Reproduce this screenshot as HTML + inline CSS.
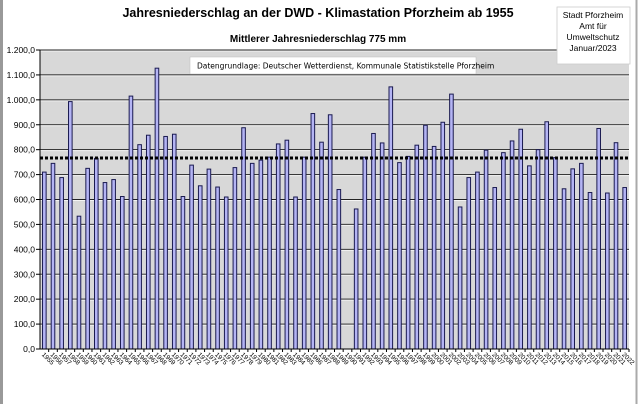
<!DOCTYPE html>
<html><head><meta charset="utf-8"><style>body{margin:0;background:#fff}svg{display:block}</style></head><body>
<svg width="640" height="404" xmlns="http://www.w3.org/2000/svg" font-family="Liberation Sans, sans-serif">
<rect x="0" y="0" width="640" height="404" fill="#fff"/>
<rect x="0" y="0" width="3" height="404" fill="#999"/>
<rect x="635.5" y="0" width="2" height="404" fill="#aaa"/>
<text x="318" y="17" font-size="12.5" font-weight="bold" text-anchor="middle">Jahresniederschlag an der DWD - Klimastation Pforzheim ab 1955</text>
<text x="318" y="42" font-size="10" font-weight="bold" text-anchor="middle">Mittlerer Jahresniederschlag  775 mm</text>
<rect x="40" y="50" width="589" height="299" fill="#d8d8d8"/>
<g id="grid"></g>
<g id="bars"></g>
<line x1="40" y1="158" x2="629" y2="158" stroke="#000" stroke-width="3" stroke-dasharray="3,2"/>
<rect x="190" y="57" width="286" height="17" fill="#fff" stroke="#bbb" stroke-width="0.5"/>
<text x="197" y="68.5" font-size="7.5" font-family="DejaVu Sans, sans-serif">Datengrundlage: Deutscher Wetterdienst, Kommunale Statistikstelle Pforzheim</text>
<rect x="557" y="7" width="73" height="57" fill="#fff" stroke="#ccc" stroke-width="0.8"/>
<g font-size="8.5" text-anchor="middle"><text x="593" y="18">Stadt Pforzheim</text><text x="593" y="29">Amt für</text><text x="593" y="40">Umweltschutz</text><text x="593" y="51">Januar/2023</text></g>
<g id="yl" font-size="8.5" text-anchor="end"></g>
<g id="xl" font-size="6.5"></g>
<line x1="40" y1="349" x2="629" y2="349" stroke="#000" stroke-width="1"/>
<line x1="40" y1="50" x2="40" y2="349" stroke="#000" stroke-width="1"/>
<script>
var ns="http://www.w3.org/2000/svg";
function el(p,t,a,txt){var e=document.createElementNS(ns,t);for(var k in a)e.setAttribute(k,a[k]);if(txt)e.textContent=txt;document.getElementById(p).appendChild(e);}
var y0=349,s=299/1200;
for(var v=0;v<=1200;v+=100){var y=y0-v*s;
 if(v>0){el('grid','line',{x1:40,x2:629,y1:y,y2:y,stroke:'#222','stroke-width':1});el('grid','line',{x1:40,x2:629,y1:y+1,y2:y+1,stroke:'#f4f4f4','stroke-width':1});}
 el('grid','line',{x1:36,x2:40,y1:y,y2:y,stroke:'#000'});
 var t=(v>=1000?(Math.floor(v/1000)+"."+String(v%1000).padStart(3,"0")):v)+",0";
 el('yl','text',{x:35,y:y+3},t);}
var d=[710,745,688,993,533,725,765,668,680,612,1015,820,858,1127,853,862,612,738,655,722,650,610,728,888,745,758,770,823,838,610,770,945,830,940,640,null,562,770,865,827,1052,748,773,818,898,813,910,1023,570,688,710,798,648,788,835,882,735,800,912,768,643,723,745,628,885,626,828,648];
var w=589/68;
for(var i=0;i<68;i++){var cx=40+w*(i+0.5);
 el('grid','line',{x1:40+w*(i+1),x2:40+w*(i+1),y1:349,y2:352,stroke:'#000'});
 if(d[i]!=null){var h=d[i]*s;el('bars','rect',{x:cx-1.8,y:y0-h,width:3.6,height:h,fill:'#b4b4f4',stroke:'#1a1a50','stroke-width':1});}
 var tx=cx-3,ty=355;el('xl','text',{x:tx,y:ty,transform:'rotate(45 '+tx+' '+ty+')'},String(1955+i));}
</script>
</svg>
</body></html>
